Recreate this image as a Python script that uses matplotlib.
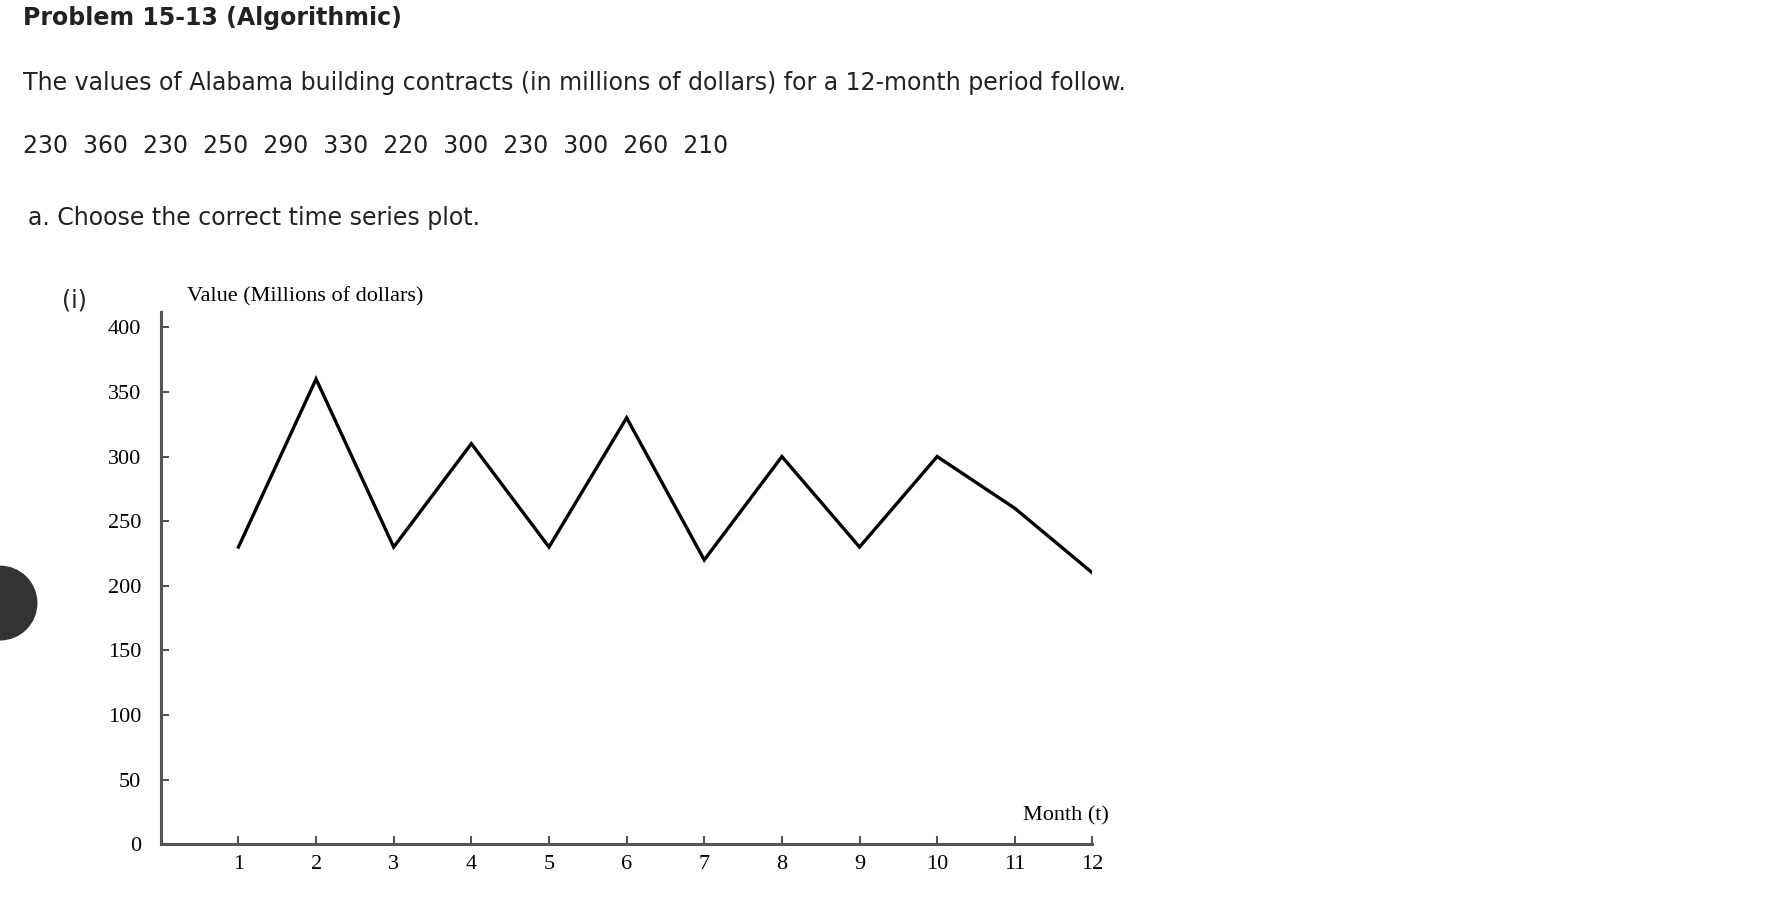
import matplotlib
matplotlib.use("Agg")
import matplotlib.pyplot as plt
from matplotlib.patches import Ellipse

months = list(range(1, 13))
values = [230, 360, 230, 310, 230, 330, 220, 300, 230, 300, 260, 210]
yticks = [0, 50, 100, 150, 200, 250, 300, 350, 400]
data_text = "230  360  230  250  290  330  220  300  230  300  260  210"

W, H = 1792, 900
s = W / 1560.0
fig = plt.figure(figsize=(W / 100, H / 100), dpi=100)

def fx(x): return x * s / W
def fy(y): return 1 - y * s / H

fs = 17
fig.text(fx(20), fy(16), "Problem 15-13 (Algorithmic)", fontsize=fs, fontweight="bold",
         family="DejaVu Sans", color="#222222", va="center")
fig.text(fx(20), fy(72), "The values of Alabama building contracts (in millions of dollars) for a 12-month period follow.",
         fontsize=fs, family="DejaVu Sans", color="#222222", va="center")
fig.text(fx(20), fy(127), data_text, fontsize=fs, family="DejaVu Sans", color="#222222", va="center")
fig.text(fx(24), fy(190), "a. Choose the correct time series plot.", fontsize=fs,
         family="DejaVu Sans", color="#222222", va="center")
fig.text(fx(54), fy(262), "(i)", fontsize=fs, family="DejaVu Sans", color="#222222", va="center")

fig.patches.append(Ellipse((0, fy(525)), 2 * 32 * s / W, 2 * 32 * s / H,
                           transform=fig.transFigure, color="#333333", zorder=0))

left, right, bottom, top = 140, 951, 735, 272
ax = fig.add_axes([fx(left), fy(bottom), fx(right - left), fy(top) - fy(bottom)])
ax.plot(months, values, color="black", lw=2.4, solid_joinstyle="miter")
ax.set_xlim(0, 12)
ax.set_ylim(0, 411.5)
for sp in ["top", "right"]:
    ax.spines[sp].set_visible(False)
for sp in ["left", "bottom"]:
    ax.spines[sp].set_color("#555555")
    ax.spines[sp].set_linewidth(2.2)
ax.set_xticks(months)
ax.set_yticks(yticks)
ax.tick_params(axis="both", direction="in", length=6, width=1.5, color="#555555",
               labelsize=16)
ax.tick_params(axis="y", pad=14)
ax.tick_params(axis="x", pad=8)
for lab in ax.get_xticklabels() + ax.get_yticklabels():
    lab.set_family("Liberation Serif")
fig.text(fx(163), fy(258), "Value (Millions of dollars)", family="Liberation Serif",
         fontsize=16, va="center")
fig.text(fx(965), fy(710), "Month (t)", family="Liberation Serif", fontsize=16,
         va="center", ha="right")

fig.savefig("out.png", dpi=100, facecolor="white")
